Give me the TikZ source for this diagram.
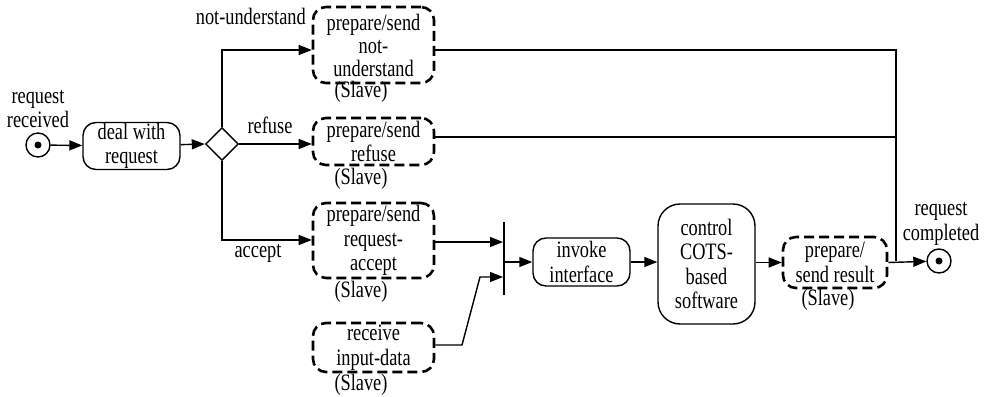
\documentclass[tikz,border=0pt]{standalone}
\usepackage{fontspec}
\setmainfont[FakeStretch=0.78]{Liberation Serif}
\usetikzlibrary{arrows.meta,shapes.geometric,calc}

\begin{document}
\begin{tikzpicture}[x=1pt,y=-1pt,
  every node/.style={font=\fontsize{23.5}{24.5}\selectfont, inner sep=0pt},
  act/.style={draw, line width=1.4pt, rounded corners=13pt, align=center,
    minimum width=97pt, minimum height=47pt},
  slaveact/.style={act, line width=2.6pt, dash pattern=on 10pt off 5pt,
    minimum width=121pt},
  conn/.style={line width=1.4pt},
  arr/.style={conn, -{Triangle[length=13pt,width=10pt]}},
  lbl/.style={align=center},
]
\useasboundingbox (0,0) rectangle (987,396);

% initial and final states
\node[circle, draw, line width=1.4pt, minimum size=24pt] (start) at (38,145) {};
\fill (start) circle (3.5pt);
\node[lbl] (startlbl) at (38,109) {request\\received};

\node[circle, draw, line width=1.4pt, minimum size=24pt] (stop) at (939,261) {};
\fill (stop) circle (3.5pt);
\node[lbl] (stoplbl) at (941,224) {request\\completed};

% activities
\node[act] (deal) at (131.5,146) {deal with\\request};
\node[diamond, draw, line width=1.4pt, aspect=1, minimum width=33pt,
  minimum height=33pt] (dia) at (222,144) {};

\node[slaveact, minimum height=76pt, font=\fontsize{23.5}{23}\selectfont] (nu)
  at (373.5,45) {prepare/send\\not-\\understand};
\node (nus) at (361,92) {(Slave)};
\node[slaveact, minimum height=47pt] (rf) at (373.5,141.5) {prepare/send\\refuse};
\node (rfs) at (361,179) {(Slave)};
\node[slaveact, minimum height=75pt] (ac) at (373.5,240.5) {prepare/send\\request-\\accept};
\node (acs) at (361,292) {(Slave)};
\node[slaveact, minimum height=49pt] (rc) at (373.5,347.5) {receive\\input-data};
\node (rcs) at (361,385) {(Slave)};

\node[fill, minimum width=1.6pt, minimum height=73pt] (bar) at (504,258.5) {};

\node[act, minimum height=48pt] (inv) at (581.5,262) {invoke\\interface};
\node[act, minimum height=120pt, rounded corners=22pt] (ctl) at (706.5,264)
  {control\\COTS-\\based\\software};
\node[slaveact, minimum width=104pt, minimum height=51pt] (res) at (835,262.5)
  {prepare/\\send result};
\node (ress) at (828,300) {(Slave)};

% guard labels
\node[anchor=east] (gnu) at (306,16) {not-understand};
\node (grf) at (270,125) {refuse};
\node (gac) at (258,253) {accept};

% control flow
\draw[arr] (start) -- (deal);
\draw[arr] (deal) -- (dia.west);
\draw[arr] (dia.north) |- (nu.west |- 0,50);
\draw[arr] (dia.east) -- (rf.west |- dia.east);
\draw[arr] (dia.south) |- (ac.west |- 0,240);

\coordinate (join) at (896,261);
\draw[conn] (nu.east |- 0,50) -| (join);
\draw[conn] (rf.east |- 0,137) -- (join |- 0,137);

\draw[arr] (ac.east |- 0,242) -- (bar.west |- 0,242);
\coordinate (rbend1) at (462,345);
\coordinate (rbend2) at (480,277);
\draw[arr] (rc.east |- rbend1) -- (rbend1) -- (rbend2) -- (bar.west |- rbend2);
\draw[arr] (bar.east |- inv.west) -- (inv.west);
\draw[arr] (inv.east) -- (ctl.west |- inv.east);
\draw[arr] (ctl.east |- res.west) -- (res.west);
\draw[arr] (res.east) -- (stop);
\end{tikzpicture}
\end{document}
